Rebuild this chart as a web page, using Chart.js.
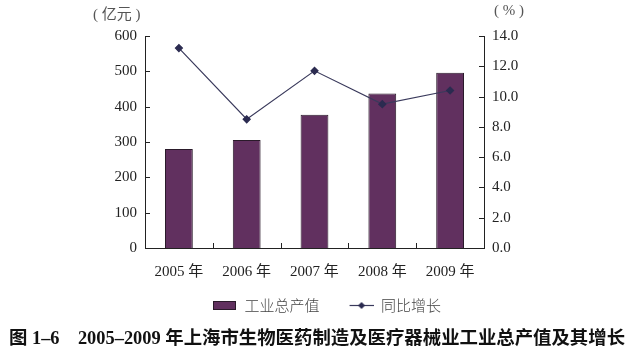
<!DOCTYPE html>
<html><head><meta charset="utf-8">
<script src="https://cdn.jsdelivr.net/npm/chart.js@4/dist/chart.umd.min.js"></script>
<style>
html,body{margin:0;padding:0;background:#fff;}
#wrap{position:relative;width:634px;height:348px;overflow:hidden;}
#cv{position:absolute;left:0;top:0;width:634px;height:327px;}
.unit{position:absolute;top:2px;font:15px "Liberation Serif","Noto Sans CJK SC",serif;color:#555;white-space:pre;}
#cap{position:absolute;left:0;top:323px;width:634px;text-align:center;font:bold 18.4px "Liberation Serif","Noto Sans CJK SC",serif;color:#111;white-space:nowrap;}
</style></head><body>
<div id="wrap">
<div id="cv"><canvas id="c"></canvas></div>
<div class="unit" style="left:93px">( 亿元 )</div>
<div class="unit" style="left:494px">( % )</div>
<div id="cap">图 1–6　2005–2009 年上海市生物医药制造及医疗器械业工业总产值及其增长</div>
</div>
<script>
const years = ['2005 年','2006 年','2007 年','2008 年','2009 年'];
const outputValues = [280, 306, 377, 437, 496];
const growthRates = [13.2, 8.5, 11.7, 9.5, 10.4];
const seriesNames = ['工业总产值','同比增长'];

const BAR = '#61305f', LINE = '#3a3a5c', PT = '#2b2b50', AX = '#222';

function mkImg(w,h,fn){const c=document.createElement('canvas');c.width=w;c.height=h;fn(c.getContext('2d'));return c;}
const LW = 44, OFF = 20;
const barImg = mkImg(LW,9,ctx=>{ctx.fillStyle=BAR;ctx.fillRect(OFF,0,23,9);ctx.strokeStyle='#2a1a2a';ctx.lineWidth=1;ctx.strokeRect(OFF+0.5,0.5,22,8);});
const lineImg = mkImg(LW,9,ctx=>{ctx.strokeStyle=LINE;ctx.lineWidth=1.2;ctx.beginPath();ctx.moveTo(OFF,4.5);ctx.lineTo(LW,4.5);ctx.stroke();
  const cx=OFF+12;ctx.fillStyle=PT;ctx.beginPath();ctx.moveTo(cx,1);ctx.lineTo(cx+3.5,4.5);ctx.lineTo(cx,8);ctx.lineTo(cx-3.5,4.5);ctx.closePath();ctx.fill();});

const innerTicks = {
  id:'innerTicks',
  afterDraw(chart){
    const ctx=chart.ctx, a=chart.chartArea;
    ctx.save();ctx.strokeStyle=AX;ctx.lineWidth=1;ctx.beginPath();
    const yl=chart.scales.y, yr=chart.scales.y1, x=chart.scales.x;
    yl.ticks.forEach((t,i)=>{const p=Math.round(yl.getPixelForTick(i))+0.5;ctx.moveTo(a.left,p);ctx.lineTo(a.left+5,p);});
    yr.ticks.forEach((t,i)=>{const p=Math.round(yr.getPixelForTick(i))+0.5;ctx.moveTo(a.right,p);ctx.lineTo(a.right-5,p);});
    for(let i=0;i<years.length-1;i++){const p=Math.round(x.getPixelForValue(i+0.5))+0.5;ctx.moveTo(p,a.bottom);ctx.lineTo(p,a.bottom-5);}
    ctx.stroke();ctx.restore();
  }
};

new Chart(document.getElementById('c'),{
  data:{labels:years,datasets:[
    {type:'line',label:seriesNames[1],data:growthRates,yAxisID:'y1',borderColor:LINE,borderWidth:1.2,
     pointStyle:'rectRot',pointRadius:3.5,pointBackgroundColor:PT,pointBorderColor:PT,tension:0,order:0},
    {type:'bar',label:seriesNames[0],data:outputValues,yAxisID:'y',backgroundColor:BAR,borderColor:'#2a1a2a',borderWidth:1,
     categoryPercentage:1,barPercentage:0.41,order:1}
  ]},
  options:{
    responsive:true,maintainAspectRatio:false,animation:false,
    layout:{padding:{top:36,left:0,right:0,bottom:4}},
    plugins:{
      tooltip:{enabled:false},
      legend:{position:'bottom',
        labels:{usePointStyle:true,pointStyleWidth:LW,boxHeight:9,padding:10,color:'#444',
          font:{family:'"Noto Sans CJK SC", sans-serif',size:15,weight:'300'},
          generateLabels(chart){
            return [
              {text:seriesNames[0],pointStyle:barImg,fillStyle:BAR,strokeStyle:BAR,lineWidth:0,datasetIndex:1,hidden:false,fontColor:'#444'},
              {text:seriesNames[1],pointStyle:lineImg,fillStyle:PT,strokeStyle:LINE,lineWidth:0,datasetIndex:0,hidden:false,fontColor:'#444'}
            ];
          }
        }
      }
    },
    scales:{
      x:{grid:{display:false,drawTicks:false},border:{display:true,color:AX,width:1},
         ticks:{padding:15,color:'#222',font:{family:'"Liberation Serif","Noto Sans CJK SC",serif',size:15}},
         afterFit(s){s.height=40;}},
      y:{position:'left',min:0,max:600,grid:{display:false,drawTicks:false},border:{display:true,color:AX,width:1},
         ticks:{stepSize:100,padding:8,color:'#222',font:{family:'"Liberation Serif",serif',size:15}},
         afterFit(s){s.width=145;}},
      y1:{position:'right',min:0,max:14,grid:{display:false,drawTicks:false},border:{display:true,color:AX,width:1},
         ticks:{stepSize:2,padding:8,color:'#222',font:{family:'"Liberation Serif",serif',size:15},callback:v=>Number(v).toFixed(1)},
         afterFit(s){s.width=150;}}
    }
  },
  plugins:[innerTicks]
});
</script>
</body></html>
